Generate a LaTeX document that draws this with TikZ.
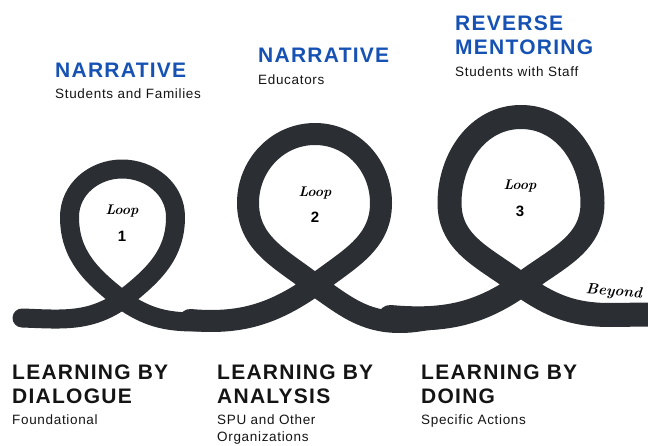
\documentclass[tikz,border=0pt]{standalone}
\usepackage{fontspec}
\newfontfamily\headfont[LetterSpace=6.0]{Liberation Sans}
\newfontfamily\bodyfont[LetterSpace=5.0]{Liberation Sans}
\definecolor{ribbon}{RGB}{43,47,51}
\definecolor{titleblue}{RGB}{22,82,180}
\definecolor{inkdark}{RGB}{20,20,20}
\begin{document}
\begin{tikzpicture}[x=1pt,y=1pt,
  title/.style={anchor=base west, inner sep=0pt, font=\headfont\bfseries\fontsize{21}{24}\selectfont, text=titleblue},
  stagetitle/.style={title, text=inkdark},
  caption/.style={anchor=base west, inner sep=0pt, font=\bodyfont\fontsize{13.5}{18}\selectfont, text=inkdark},
  looplabel/.style={font=\bfseries\itshape\fontsize{14}{14}\selectfont, inner sep=0pt},
  loopnum/.style={font=\headfont\bfseries\fontsize{15}{15}\selectfont, inner sep=0pt},
  ribbonline/.style={draw=ribbon, line cap=round, line join=round}]
\useasboundingbox (0,0) rectangle (648,445);

% ---- the looping ribbon ----
\begin{scope}
\clip (0,0) rectangle (648,445);
% loop 1
\coordinate (c1) at (122,145);
\coordinate (l1) at (69.5,228);
\coordinate (r1) at (175.5,228);
\coordinate (t1) at (122,276);
\draw[ribbonline, line width=19pt] (22,127) to[out=-2,in=215] (c1)
  to[out=38,in=-90] (r1) to[out=90,in=0] (t1) to[out=180,in=90] (l1)
  to[out=-90,in=142] (c1) to[out=-35,in=180] (195,123) to[out=0,in=185] (229,125);
% loop 2
\coordinate (c2) at (315,160);
\coordinate (l2) at (248,242);
\coordinate (r2) at (381,242);
\coordinate (t2) at (315,311);
\draw[ribbonline, line width=22pt] (190,125) to[out=-5,in=215] (c2)
  to[out=38,in=-90] (r2) to[out=90,in=0] (t2) to[out=180,in=90] (l2)
  to[out=-90,in=142] (c2) to[out=-35,in=180] (400,123) to[out=0,in=185] (438,127);
% loop 3
\coordinate (c3) at (521,160);
\coordinate (l3) at (449.5,242);
\coordinate (r3) at (592.5,242);
\coordinate (t3) at (521,328);
\draw[ribbonline, line width=24pt] (390,128) to[out=-5,in=215] (c3)
  to[out=38,in=-90] (r3) to[out=90,in=0] (t3) to[out=180,in=90] (l3)
  to[out=-90,in=142] (c3) to[out=-35,in=180] (610,130) -- (690,131);
\end{scope}

% ---- labels inside the loops ----
\node[looplabel] (loopa) at (122,234) {Loop};
\node[loopnum]   (numa)  at (122,209) {1};
\node[looplabel] (loopb) at (315,252) {Loop};
\node[loopnum]   (numb)  at (315,228) {2};
\node[looplabel] (loopc) at (520,259) {Loop};
\node[loopnum]   (numc)  at (520,234) {3};
\node[looplabel, font=\bfseries\itshape\fontsize{15}{15}\selectfont, rotate=-4] (beyond) at (614,153) {Beyond};

% ---- upper titles ----
\node[title]   (n1)  at (55,367)  {NARRATIVE};
\node[caption] (n1s) at (55,346)  {Students and Families};
\node[title]   (n2)  at (258,382) {NARRATIVE};
\node[caption] (n2s) at (258,360) {Educators};
\node[title]   (n3a) at (455,414) {REVERSE};
\node[title]   (n3b) at (455,390) {MENTORING};
\node[caption] (n3s) at (455,368) {Students with Staff};

% ---- lower titles ----
\node[stagetitle] (s1a) at (12,66)  {LEARNING BY};
\node[stagetitle] (s1b) at (12,42)  {DIALOGUE};
\node[caption]    (s1s) at (12,21)  {Foundational};
\node[stagetitle] (s2a) at (217,66) {LEARNING BY};
\node[stagetitle] (s2b) at (217,42) {ANALYSIS};
\node[caption]    (s2s) at (217,21) {SPU and Other};
\node[caption]    (s2t) at (217,3.5) {Organizations};
\node[stagetitle] (s3a) at (421,66) {LEARNING BY};
\node[stagetitle] (s3b) at (421,42) {DOING};
\node[caption]    (s3s) at (421,21) {Specific Actions};
\end{tikzpicture}
\end{document}
